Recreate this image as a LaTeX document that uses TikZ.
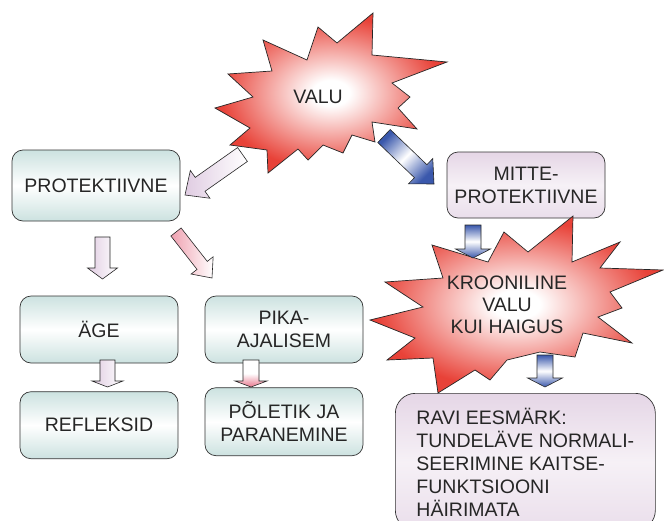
\documentclass[tikz,border=0pt]{standalone}
\usepackage{fontspec}
\setmainfont{Liberation Sans}
\usetikzlibrary{calc,positioning}
\definecolor{boxTeal}{RGB}{204,226,224}
\definecolor{boxLilac}{RGB}{229,214,230}
\definecolor{burstRed}{RGB}{232,66,56}
\definecolor{arrowBlue}{RGB}{58,88,172}
\definecolor{arrowLilac}{RGB}{224,204,226}
\definecolor{arrowPink}{RGB}{232,120,142}
\definecolor{textGray}{RGB}{38,38,38}
\pgfdeclareradialshading{burstShade}{\pgfpoint{0bp}{0bp}}{color(0bp)=(white); color(4bp)=(white);
  color(13bp)=(burstRed!45!white); color(24bp)=(burstRed); color(50bp)=(burstRed)}
\newcommand{\BlockArrow}[6][]{%
  \coordinate (headBase) at ($(#3)!#6!(#2)$);
  \path[blockArrow,#1] ($(#2)!#4!90:(#3)$) -- ($(headBase)!#4!90:(#3)$) -- ($(headBase)!#5!90:(#3)$) -- (#3)
    -- ($(headBase)!#5!-90:(#3)$) -- ($(headBase)!#4!-90:(#3)$) -- ($(#2)!#4!-90:(#3)$) -- cycle;}
\tikzset{
  box/.style={draw=black!80,line width=.7pt,rounded corners=11pt,top color=boxTeal,bottom color=boxTeal,middle color=white,
    minimum width=158pt,minimum height=67pt,inner sep=4pt,align=center,text=textGray,font=\fontsize{19.5}{23}\selectfont},
  lilacBox/.style={top color=boxLilac,bottom color=boxLilac!80,middle color=boxLilac!35},
  burst/.style={draw=black!85,line width=.7pt,line join=miter,shading=burstShade},
  burstText/.style={align=center,text=textGray,font=\fontsize{19.5}{22}\selectfont},
  blockArrow/.style={draw=black!85,line width=.6pt,line join=miter},
  paleArrow/.style={left color=arrowLilac,right color=white},
  pinkArrow/.style={left color=arrowPink!70,right color=white},
  blueArrow/.style={top color=arrowBlue,bottom color=arrowBlue,middle color=white}
}
\begin{document}
\begin{tikzpicture}[x=1pt,y=-1pt]
\path[use as bounding box,fill=white] (0,0) rectangle (664,520);
\clip (0,0) rectangle (664,520);

% boxes
\node[box,minimum width=168pt,minimum height=71pt] (prot) at (96,185.5) {PROTEKTIIVNE};
\node[box] (age) at (99,329.5) {ÄGE};
\node[box,below=28pt of age] (refl) {REFLEKSID};
\node[box] (pika) at (284,329.5) {PIKA-\\AJALISEM};
\node[box,minimum height=68pt,below=24pt of pika] (polet) {PÕLETIK JA\\PARANEMINE};
\node[box,lilacBox,minimum height=66pt] (mitte) at (526,185) {MITTE-\\PROTEKTIIVNE};
\node[box,lilacBox,anchor=north west,minimum width=260pt,minimum height=137pt,rounded corners=20pt,align=left] (ravi) at (395,393)
  {RAVI EESMÄRK:\\TUNDELÄVE NORMALI-\\SEERIMINE KAITSE-\\FUNKTSIOONI\\HÄIRIMATA};

% bursts
\path[burst] (373,13) -- (372,55) -- (447,62) -- (392,83) -- (410,97) -- (398,108) -- (417,129) -- (372,122)
  -- (375,142) -- (352,135) -- (343,153) -- (323,145) -- (308,160) -- (298,149) -- (268,173) -- (267,150)
  -- (230,145) -- (250,128) -- (215,108) -- (253,97) -- (228,74) -- (272,71) -- (263,40) -- (307,60)
  -- (318,27) -- (337,43) -- cycle;
\node[burstText] (valu) at (318,97) {VALU};
\path[burst] (573,216) -- (572,262) -- (620,242) -- (600,268) -- (663,270) -- (610,292) -- (622,308) -- (598,317)
  -- (632,343) -- (583,333) -- (575,357) -- (540,352) -- (507,360) -- (490,380) -- (475,370) -- (438,393)
  -- (433,358) -- (387,360) -- (415,338) -- (370,320) -- (423,307) -- (385,282) -- (443,278) -- (432,245)
  -- (488,262) -- (504,232) -- (528,252) -- cycle;
\node[burstText] (krooniline) at (507,305) {KROONILINE\\VALU\\KUI HAIGUS};

% arrows
\coordinate (valuProtS) at (242.5,154.5);  \coordinate (valuProtE) at (185,195);
\coordinate (valuMitteS) at (384,136);     \coordinate (valuMitteE) at (434,184);
\coordinate (protAgeS) at (102.5,237);     \coordinate (protAgeE) at (102.5,279);
\coordinate (protPikaS) at (176,232);      \coordinate (protPikaE) at (212,278);
\coordinate (ageReflS) at (107.5,360);     \coordinate (ageReflE) at (107.5,387);
\coordinate (pikaPoletS) at (251,360);     \coordinate (pikaPoletE) at (251,387);
\coordinate (mitteKroonS) at (473,225);    \coordinate (mitteKroonE) at (473,258);
\coordinate (kroonRaviS) at (545,355);     \coordinate (kroonRaviE) at (545,387);

\BlockArrow[paleArrow]{valuProtS}{valuProtE}{8.5pt}{17pt}{18.5pt}
\BlockArrow[blueArrow,shading angle=45]{valuMitteS}{valuMitteE}{9pt}{17.5pt}{18.5pt}
\BlockArrow[paleArrow]{protAgeS}{protAgeE}{7.5pt}{15pt}{11pt}
\BlockArrow[pinkArrow]{protPikaS}{protPikaE}{6.5pt}{14pt}{16pt}
\BlockArrow[paleArrow]{ageReflS}{ageReflE}{7.5pt}{15.5pt}{6pt}
\BlockArrow[top color=white,bottom color=arrowPink,middle color=white]{pikaPoletS}{pikaPoletE}{8pt}{16pt}{6pt}
\BlockArrow[blueArrow]{mitteKroonS}{mitteKroonE}{8pt}{17.5pt}{9pt}
\BlockArrow[blueArrow]{kroonRaviS}{kroonRaviE}{8pt}{17.5pt}{9pt}
\end{tikzpicture}
\end{document}
